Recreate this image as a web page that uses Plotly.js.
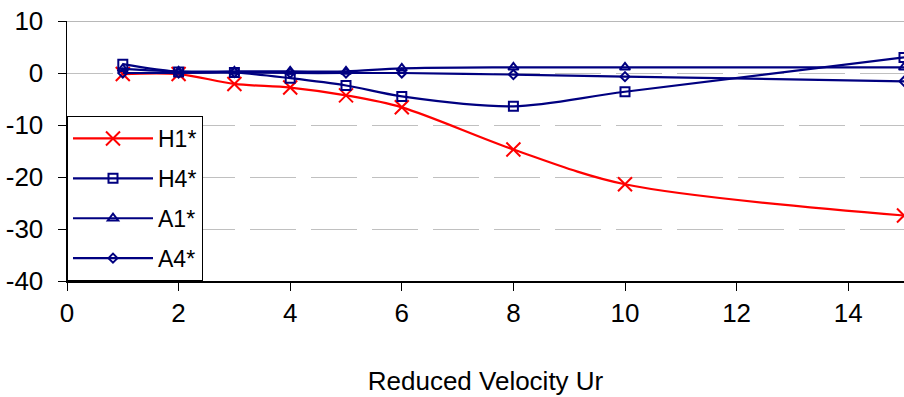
<!DOCTYPE html>
<html>
<head>
<meta charset="utf-8">
<script src="https://cdn.plot.ly/plotly-3.0.1.min.js"></script>
<style>
  html, body { margin: 0; padding: 0; background: #fff; }
  #chart { width: 904px; height: 397px; }
</style>
</head>
<body>
<div id="chart"></div>
<script>
// ---- data ----
const reducedVelocity = [1, 2, 3, 4, 5, 6, 8, 10, 15];
const seriesNames = ["H1*", "H4*", "A1*", "A4*"];
const h1 = [-0.2, -0.2, -2.1, -2.8, -4.3, -6.6, -14.7, -21.4, -27.4];
const h4 = [1.7, 0.2, 0.1, -1.0, -2.4, -4.5, -6.4, -3.6, 3.0];
const a1 = [0.8, 0.3, 0.3, 0.3, 0.3, 0.9, 1.1, 1.1, 1.1];
const a4 = [0.0, 0.0, 0.1, 0.0, 0.0, 0.0, -0.3, -0.7, -1.6];
const xTicks = [0, 2, 4, 6, 8, 10, 12, 14];
const yTicks = [-40, -30, -20, -10, 0, 10];
const xTitle = "Reduced Velocity Ur";

const RED = "#FF0000";
const NAVY = "#000080";
const FONT = "Liberation Sans, Arial, sans-serif";

function series(name, y, color, symbol, size, group) {
  return {
    type: "scatter",
    mode: "lines+markers",
    name: name,
    x: reducedVelocity,
    y: y,
    legendgroup: group,
    line: { color: color, width: 2.2, shape: "spline", smoothing: 0.9 },
    marker: {
      symbol: symbol,
      size: size,
      color: color,
      line: { color: color, width: 2 }
    },
    cliponaxis: false
  };
}

const data = [
  series(seriesNames[0], h1, RED, "x-thin", 14, "g1"),
  series(seriesNames[1], h4, NAVY, "square-open", 9, "g2"),
  series(seriesNames[2], a1, NAVY, "triangle-up-open", 9, "g3"),
  series(seriesNames[3], a4, NAVY, "diamond-open", 7, "g4")
];

const layout = {
  width: 904,
  height: 397,
  margin: { l: 67, r: 0, t: 21, b: 116 },
  paper_bgcolor: "#fff",
  plot_bgcolor: "#fff",
  font: { family: FONT, size: 26, color: "#000" },
  showlegend: true,
  legend: {
    x: 0, y: 0, xanchor: "left", yanchor: "bottom",
    bgcolor: "#fff",
    bordercolor: "#000",
    borderwidth: 1,
    font: { family: FONT, size: 23, color: "#000" },
    traceorder: "grouped",
    tracegroupgap: 7,
    itemwidth: 80
  },
  xaxis: {
    range: [0, 15],
    tickvals: xTicks,
    ticktext: xTicks.map(String),
    ticks: "outside",
    ticklen: 8,
    tickcolor: "#000",
    showline: true,
    linecolor: "#000",
    linewidth: 1.5,
    showgrid: false,
    zeroline: false,
    tickfont: { family: FONT, size: 26, color: "#000" },
    title: { text: xTitle, font: { family: FONT, size: 26, color: "#000" }, standoff: 45 }
  },
  yaxis: {
    range: [-40, 10],
    tickvals: yTicks,
    ticktext: yTicks.map(String),
    ticks: "outside",
    ticklen: 8,
    tickcolor: "#000",
    showline: true,
    linecolor: "#000",
    linewidth: 1.5,
    showgrid: true,
    gridcolor: "#c0c0c0",
    gridwidth: 1,
    griddash: "46px,15px",
    zeroline: false,
    ticklabelstandoff: 9,
    tickfont: { family: FONT, size: 26, color: "#000" }
  },
  shapes: [
    { type: "line", xref: "paper", yref: "y", x0: 0, x1: 1, y0: 10, y1: 10,
      line: { color: "#a0a0a0", width: 1.5 }, layer: "below" }
  ]
};

Plotly.newPlot("chart", data, layout, { displayModeBar: false, staticPlot: true });
</script>
</body>
</html>
